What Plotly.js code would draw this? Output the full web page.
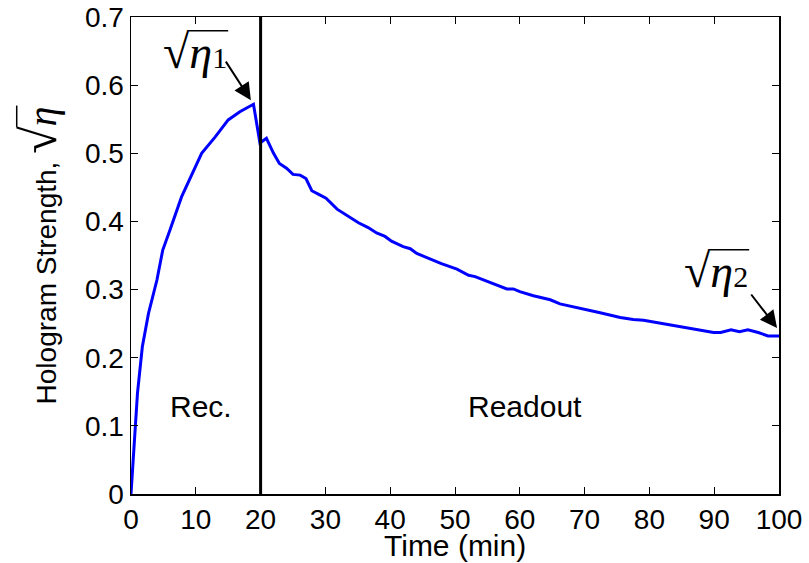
<!DOCTYPE html>
<html>
<head>
<meta charset="utf-8">
<script src="https://cdn.plot.ly/plotly-3.0.1.min.js"></script>
<style>html,body{margin:0;padding:0;background:#fff;}#chart{width:809px;height:563px;}</style>
</head>
<body>
<div id="chart"></div>
<script>
// Time in minutes
const time = [0, 1, 1.75, 2.7, 4, 4.9, 6, 7.8, 10.9, 13, 15, 16.8, 18.9, 19.9, 20.9, 22, 22.9, 24, 25, 26.1, 27, 27.9, 28.9, 30.1, 31.8, 33, 35.1, 36.6, 37.9, 39.2, 40.2, 42, 43.1, 44.1, 46.7, 47.9, 50.3, 52.1, 53.1, 54.9, 56.2, 58, 59, 60, 62.1, 64.7, 66.2, 69.3, 72.4, 75.5, 77.5, 79.1, 81.6, 83.7, 86.8, 89.9, 91, 92.6, 93.9, 95.2, 96.8, 98.3, 100];
// Hologram strength sqrt(eta)
const strength = [0, 0.148, 0.216, 0.265, 0.314, 0.358, 0.387, 0.436, 0.5, 0.524, 0.549, 0.561, 0.572, 0.515, 0.522, 0.5, 0.485, 0.478, 0.469, 0.468, 0.463, 0.445, 0.44, 0.434, 0.418, 0.411, 0.398, 0.391, 0.383, 0.378, 0.371, 0.363, 0.36, 0.353, 0.343, 0.338, 0.33, 0.321, 0.319, 0.312, 0.308, 0.301, 0.301, 0.297, 0.291, 0.285, 0.279, 0.273, 0.266, 0.259, 0.256, 0.255, 0.251, 0.247, 0.243, 0.237, 0.237, 0.241, 0.238, 0.241, 0.237, 0.232, 0.232];
// Boundary between recording and readout
const switchTime = [20, 20];
const switchLevel = [0, 0.7];
const xTicks = [0, 10, 20, 30, 40, 50, 60, 70, 80, 90, 100];
const yTicks = [0, 0.1, 0.2, 0.3, 0.4, 0.5, 0.6, 0.7];
const yTickLabels = ['0', '0.1', '0.2', '0.3', '0.4', '0.5', '0.6', '0.7'];
const xTitle = 'Time (min)';

const sans = 'Liberation Sans, Arial, sans-serif';
const serif = 'Liberation Serif, Times New Roman, serif';

const traces = [
  {x: time, y: strength, type: 'scatter', mode: 'lines', line: {color: '#0000ff', width: 3}, hoverinfo: 'skip'},
  {x: switchTime, y: switchLevel, type: 'scatter', mode: 'lines', line: {color: '#000000', width: 3}, hoverinfo: 'skip'}
];

const axisCommon = {
  showline: true, linecolor: '#000', linewidth: 1.5, mirror: 'ticks',
  ticks: 'inside', ticklen: 7, tickwidth: 1, tickcolor: '#000',
  showgrid: false, zeroline: false,
  tickfont: {family: sans, size: 28, color: '#000'}
};

const sqrtEta = (sub) => "<span style='font-size:48px'>√</span><i>η</i><span style='font-size:30px'>" + sub + "</span>";

const layout = {
  width: 809, height: 563,
  margin: {l: 131, r: 30, t: 17, b: 69},
  paper_bgcolor: '#fff', plot_bgcolor: '#fff',
  showlegend: false,
  xaxis: Object.assign({}, axisCommon, {
    range: [0, 100], tickvals: xTicks
  }),
  yaxis: Object.assign({}, axisCommon, {
    range: [0, 0.7], tickvals: yTicks, ticktext: yTickLabels,
    title: {text: "Hologram Strength, <span style='font-family:Liberation Serif;font-size:50px'>√</span><span style='font-family:Liberation Serif;font-size:40px'><i>η</i></span>", font: {family: sans, size: 28, color: '#000'}, standoff: 20}
  }),
  annotations: [
    {x: 0.5, y: -0.107, xref: 'paper', yref: 'paper', yanchor: 'middle', text: xTitle, showarrow: false, font: {family: sans, size: 30, color: '#000'}},
    {x: 10.8, y: 0.129, xref: 'x', yref: 'y', text: 'Rec.', showarrow: false, font: {family: sans, size: 30, color: '#000'}},
    {x: 60.8, y: 0.129, xref: 'x', yref: 'y', text: 'Readout', showarrow: false, font: {family: sans, size: 30, color: '#000'}},
    {x: 9.9, y: 0.65, xref: 'x', yref: 'y', text: sqrtEta('1'), showarrow: false, font: {family: serif, size: 46, color: '#000'}},
    {x: 90.3, y: 0.328, xref: 'x', yref: 'y', text: sqrtEta('2'), showarrow: false, font: {family: serif, size: 46, color: '#000'}},
    {x: 18.5, y: 0.578, xref: 'x', yref: 'y', text: '', showarrow: true, ax: -26, ay: -40, arrowhead: 2, arrowsize: 1.7, arrowwidth: 2, arrowcolor: '#000'},
    {x: 99.7, y: 0.2436, xref: 'x', yref: 'y', text: '', showarrow: true, ax: -27, ay: -35, arrowhead: 2, arrowsize: 1.7, arrowwidth: 2, arrowcolor: '#000'}
  ],
  shapes: []
};

// Draw the vinculum (bar over the radicand) from the rendered radical glyph
function addVinculums(gd) {
  const canvas = document.createElement('canvas');
  const ctx = canvas.getContext('2d');
  const box = gd.getBoundingClientRect();
  const sz = gd._fullLayout._size;
  const shapes = [];
  gd.querySelectorAll('text').forEach(el => {
    const s = el.textContent;
    const i = s.indexOf('√');
    if (i < 0) return;
    const tsp = Array.from(el.querySelectorAll('tspan')).find(t => t.textContent === '√');
    const target = tsp || el;
    const cs = getComputedStyle(target);
    ctx.font = cs.fontSize + ' ' + cs.fontFamily;
    const m = ctx.measureText('√');
    const start = el.getStartPositionOfChar(i);
    const end = el.getEndPositionOfChar(s.length - 1);
    const topY = start.y - m.actualBoundingBoxAscent + 0.8;
    const x1 = start.x + m.actualBoundingBoxRight - 1;
    const x2 = end.x + 1;
    const ctm = el.getScreenCTM();
    const toPaper = (x, y) => {
      const pt = el.ownerSVGElement.createSVGPoint();
      pt.x = x; pt.y = y;
      const p = pt.matrixTransform(ctm);
      return [(p.x - box.left - sz.l) / sz.w, 1 - (p.y - box.top - sz.t) / sz.h];
    };
    const a = toPaper(x1, topY), b = toPaper(x2, topY);
    shapes.push({type: 'line', xref: 'paper', yref: 'paper', x0: a[0], y0: a[1], x1: b[0], y1: b[1], line: {color: '#000', width: 1.5}});
  });
  return Plotly.relayout(gd, {shapes: shapes});
}

Plotly.newPlot('chart', traces, layout, {staticPlot: true, displayModeBar: false}).then(addVinculums);
</script>
</body>
</html>
